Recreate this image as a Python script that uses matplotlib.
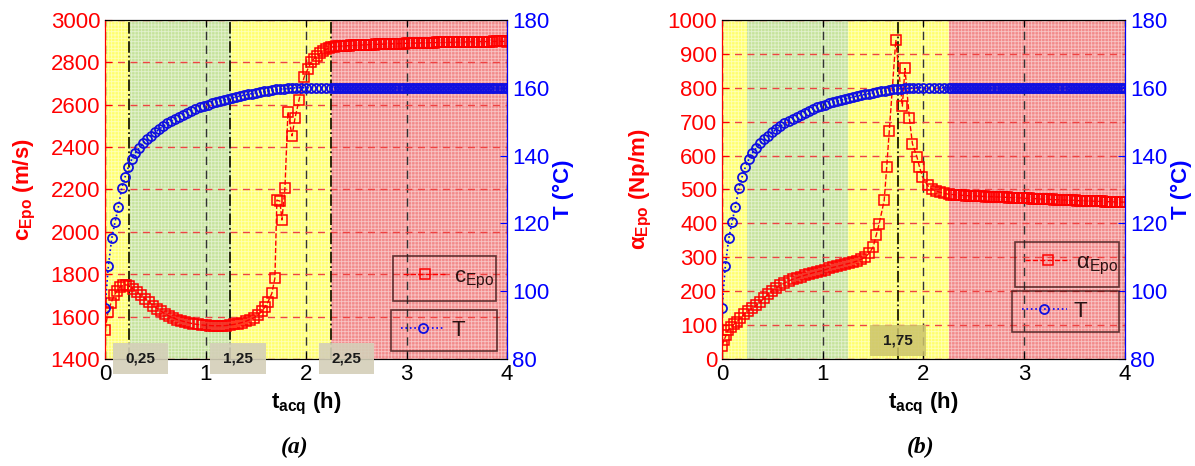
import numpy as np
import matplotlib
matplotlib.use("Agg")
import matplotlib.pyplot as plt
from matplotlib.patches import Rectangle

plt.rcParams['font.family'] = ['Liberation Sans', 'DejaVu Sans']
plt.rcParams['mathtext.fontset'] = 'custom'
plt.rcParams['mathtext.rm'] = 'Liberation Sans'
plt.rcParams['mathtext.it'] = 'Liberation Sans:italic'
plt.rcParams['mathtext.bf'] = 'Liberation Sans:bold'
plt.rcParams['hatch.linewidth'] = 0.6

# ---- sampling times of the last (isothermal) phase, shared by all series (h)
t_flat = [2.275, 2.300, 2.325, 2.350, 2.375, 2.400, 2.425, 2.450, 2.475, 2.500,
          2.525, 2.550, 2.575, 2.600, 2.625, 2.650, 2.675, 2.700, 2.725, 2.750,
          2.775, 2.800, 2.825, 2.850, 2.875, 2.900, 2.925, 2.950, 2.975, 3.000,
          3.025, 3.050, 3.075, 3.100, 3.125, 3.150, 3.175, 3.200, 3.225, 3.250,
          3.275, 3.300, 3.325, 3.350, 3.375, 3.400, 3.425, 3.450, 3.475, 3.500,
          3.525, 3.550, 3.575, 3.600, 3.625, 3.650, 3.675, 3.700, 3.725, 3.750,
          3.775, 3.800, 3.825, 3.850, 3.875, 3.900, 3.925, 3.950, 3.975, 4.000]

# ---- (a) sound speed c_Epo (m/s)
t_c_early = [0.00, 0.03, 0.06, 0.09, 0.12, 0.15, 0.18, 0.21, 0.24, 0.28, 0.32, 0.36, 0.40, 0.44,
             0.48, 0.52, 0.56, 0.60, 0.64, 0.68, 0.72, 0.76, 0.80, 0.84, 0.88, 0.92, 0.96, 1.00,
             1.04, 1.08, 1.12, 1.16, 1.20, 1.24, 1.28, 1.32, 1.36, 1.40, 1.44, 1.48, 1.52, 1.56,
             1.59, 1.62, 1.66, 1.69, 1.71, 1.74, 1.76, 1.79, 1.82, 1.86, 1.89, 1.93, 1.98, 2.02,
             2.05, 2.08, 2.11, 2.14, 2.17, 2.20, 2.23, 2.25]
c_early = [1537, 1623, 1665, 1700, 1722, 1740, 1748, 1750, 1745, 1730, 1715, 1700, 1685, 1668,
           1652, 1638, 1625, 1612, 1602, 1594, 1586, 1580, 1575, 1570, 1566, 1563, 1561, 1559,
           1558, 1557, 1557, 1557, 1558, 1560, 1563, 1567, 1572, 1578, 1586, 1595, 1607, 1625,
           1645, 1668, 1710, 1781, 2150, 2145, 2056, 2206, 2567, 2453, 2536, 2622, 2729, 2771,
           2800, 2818, 2832, 2843, 2853, 2861, 2868, 2872]
c_flat = [2874, 2875, 2876, 2877, 2878, 2878, 2879, 2880, 2880, 2881,
          2881, 2882, 2882, 2883, 2883, 2884, 2884, 2885, 2885, 2886,
          2886, 2887, 2887, 2887, 2888, 2888, 2889, 2889, 2889, 2890,
          2890, 2890, 2891, 2891, 2891, 2892, 2892, 2892, 2893, 2893,
          2893, 2894, 2894, 2894, 2894, 2895, 2895, 2895, 2895, 2896,
          2896, 2896, 2896, 2897, 2897, 2897, 2897, 2897, 2898, 2898,
          2898, 2898, 2898, 2898, 2899, 2899, 2899, 2899, 2899, 2898]

# ---- (b) attenuation alpha_Epo (Np/m)
t_a_early = [0.00, 0.02, 0.04, 0.06, 0.09, 0.12, 0.15, 0.18, 0.22, 0.26, 0.30, 0.34, 0.38, 0.42,
             0.46, 0.50, 0.54, 0.58, 0.62, 0.66, 0.70, 0.74, 0.78, 0.82, 0.86, 0.90, 0.94, 0.98,
             1.02, 1.06, 1.10, 1.14, 1.18, 1.22, 1.26, 1.30, 1.34, 1.38, 1.42, 1.46, 1.50, 1.53,
             1.56, 1.61, 1.635, 1.66, 1.725, 1.79, 1.816, 1.86, 1.89, 1.935, 1.96, 1.99, 2.04,
             2.08, 2.12, 2.16, 2.20, 2.25]
alpha_early = [39, 55, 70, 85, 95, 103, 110, 120, 133, 142, 150, 158, 168, 180,
               192, 202, 210, 218, 224, 230, 235, 239, 243, 247, 250, 254, 257, 260,
               263, 267, 270, 273, 276, 279, 282, 285, 289, 294, 300, 312, 330, 365,
               399, 468, 567, 672, 941, 746, 857, 710, 635, 596, 567, 537, 512,
               502, 496, 492, 489, 486]
alpha_flat = [485, 485, 484, 484, 483, 483, 482, 482, 481, 481,
              481, 480, 480, 480, 479, 479, 479, 478, 478, 478,
              477, 477, 477, 476, 476, 476, 475, 475, 475, 474,
              474, 474, 473, 473, 473, 472, 472, 472, 471, 471,
              471, 470, 470, 470, 469, 469, 469, 468, 468, 468,
              467, 467, 467, 466, 466, 466, 466, 465, 465, 465,
              465, 464, 464, 464, 464, 463, 463, 463, 463, 463]

# ---- cure temperature T (deg C), same in both panels
t_T_early = [0.00, 0.033, 0.067, 0.10, 0.133, 0.167, 0.20, 0.233, 0.267, 0.30, 0.34, 0.38, 0.42,
             0.46, 0.50, 0.54, 0.58, 0.62, 0.66, 0.70, 0.74, 0.78, 0.82, 0.86, 0.90, 0.94, 0.98,
             1.02, 1.06, 1.10, 1.14, 1.18, 1.22, 1.26, 1.30, 1.34, 1.38, 1.42, 1.46, 1.50, 1.54,
             1.58, 1.62, 1.66, 1.70, 1.74, 1.78, 1.82, 1.86, 1.90, 1.95, 2.00, 2.05, 2.10, 2.15,
             2.20, 2.25]
T_early = [95.0, 107.5, 115.6, 120.5, 124.9, 130.5, 133.8, 136.7, 139.0, 140.7, 142.2, 143.6, 144.8,
           145.9, 146.9, 147.8, 148.7, 149.5, 150.2, 150.9, 151.5, 152.1, 152.7, 153.2, 153.7, 154.2, 154.6,
           155.0, 155.4, 155.8, 156.1, 156.4, 156.7, 157.0, 157.3, 157.6, 157.8, 158.1, 158.3, 158.5, 158.8,
           159.0, 159.2, 159.4, 159.5, 159.6, 159.7, 159.8, 159.9, 160.0, 160.0, 160.0, 160.0, 160.0, 160.0,
           160.0, 160.0]
T_flat = [160.0, 160.0, 160.0, 160.0, 160.0, 160.0, 160.0, 160.0, 160.0, 160.0,
          160.0, 160.0, 160.0, 160.0, 160.0, 160.0, 160.0, 160.0, 160.0, 160.0,
          160.0, 160.0, 160.0, 160.0, 160.0, 160.0, 160.0, 160.0, 160.0, 160.0,
          160.0, 160.0, 160.0, 160.0, 160.0, 160.0, 160.0, 160.0, 160.0, 160.0,
          160.0, 160.0, 160.0, 160.0, 160.0, 160.0, 160.0, 160.0, 160.0, 160.0,
          160.0, 160.0, 160.0, 160.0, 160.0, 160.0, 160.0, 160.0, 160.0, 160.0,
          160.0, 160.0, 160.0, 160.0, 160.0, 160.0, 160.0, 160.0, 160.0, 160.0]

t_T = t_T_early + t_flat
temp = T_early + T_flat

# cure phases (h)
phases = [(0.0, 0.25, 'yellow'), (0.25, 1.25, 'green'), (1.25, 2.25, 'yellow'), (2.25, 4.0, 'red')]
phase_colors = {'yellow': '#ffff6e', 'green': '#c6e39c', 'red': '#f28a8a'}


def panel(ax, t, y, ylim, yticks, ylabel, leg_label, marks, boxes, box_color):
    for x0, x1, name in phases:
        ax.axvspan(x0, x1, facecolor=phase_colors[name], edgecolor=(1, 1, 1, 0.5),
                   hatch='+++++', linewidth=0, zorder=0)
    ax.set_xlim(0, 4)
    ax.set_ylim(*ylim)
    ax.set_xticks([0, 1, 2, 3, 4])
    ax.set_yticks(yticks)
    ax.yaxis.grid(True, color='#ee4444', linestyle=(0, (5, 4)), linewidth=1)
    ax.xaxis.grid(True, color='#333333', linestyle=(0, (6, 4)), linewidth=1)
    for m in marks:
        ax.axvline(m, color='#1a1a00', linestyle='-.', linewidth=1.3, zorder=1.6)
    l1, = ax.plot(t, y, linestyle='--', color='red', marker='s', markersize=6.5,
                  markerfacecolor='none', markeredgecolor='red', markeredgewidth=1.1, linewidth=1)
    ax.tick_params(axis='y', colors='red', direction='in', labelsize=16, length=5)
    ax.tick_params(axis='x', direction='in', labelsize=16, length=5, top=True)
    ax.spines['left'].set_color('red')
    ax.set_ylabel(ylabel, color='red', fontsize=16, fontweight='bold')
    ax.yaxis.set_label_coords(-0.168, 0.5)
    ax.set_xlabel(r't$_{\mathbf{acq}}$ (h)', fontsize=16, fontweight='bold')

    tw = ax.twinx()
    tw.set_ylim(80, 180)
    tw.set_yticks([80, 100, 120, 140, 160, 180])
    l2, = tw.plot(t_T, temp, linestyle=':', color='blue', marker='o', markersize=6.5,
                  markerfacecolor='none', markeredgecolor='#1010e0', markeredgewidth=1.3,
                  linewidth=1.2)
    tw.tick_params(axis='y', colors='blue', direction='in', labelsize=16, length=5)
    tw.spines['right'].set_color('blue')
    tw.spines['left'].set_color('red')
    tw.set_ylabel('T (°C)', color='blue', fontsize=16, fontweight='bold')
    tw.yaxis.set_label_coords(1.114, 0.5)

    lg_kw = dict(loc='center', mode='expand', borderaxespad=0, fontsize=16, handlelength=2.0,
                 handletextpad=0.3, borderpad=0.45, fancybox=False,
                 edgecolor='#3d1414', labelcolor='#2a1212')
    a, b = leg_label
    lg1 = tw.legend([l1], [a], bbox_to_anchor=b[0], **lg_kw)
    lg1.get_frame().set_linewidth(1.2)
    lg1.get_frame().set_facecolor('none')
    tw.add_artist(lg1)
    lg2 = tw.legend([l2], ['T'], bbox_to_anchor=b[1], **lg_kw)
    lg2.get_frame().set_linewidth(1.2)
    lg2.get_frame().set_facecolor('none')

    for (x0, y0, w, h), txt in boxes:
        tw.add_patch(Rectangle((x0, y0), w, h, transform=tw.transAxes, facecolor=box_color,
                               edgecolor='none', clip_on=False, zorder=5))
        tw.text(x0 + w / 2, y0 + h / 2, txt, transform=tw.transAxes, ha='center', va='center',
                fontsize=11, fontweight='bold', color='#1a1a1a', zorder=6)
    return tw


fig = plt.figure(figsize=(11.95, 4.66), dpi=100)
ax_a = fig.add_axes([0.0879, 0.2296, 0.3364, 0.7275])
ax_b = fig.add_axes([0.6042, 0.2296, 0.3372, 0.7275])

panel(ax_a, t_c_early + t_flat, c_early + c_flat, (1400, 3000), list(range(1400, 3001, 200)),
      r'c$_{\mathbf{Epo}}$ (m/s)',
      (r'c$_{\mathrm{Epo}}$', [(0.716, 0.174, 0.256, 0.127), (0.711, 0.021, 0.263, 0.129)]),
      [0.24, 1.24, 2.25],
      [((0.02, -0.044, 0.137, 0.091), '0,25'), ((0.261, -0.044, 0.139, 0.091), '1,25'),
       ((0.532, -0.044, 0.137, 0.091), '2,25')],
      (0.83, 0.81, 0.72, 0.9))

panel(ax_b, t_a_early + t_flat, alpha_early + alpha_flat, (0, 1000), list(range(0, 1001, 100)),
      r'α$_{\mathbf{Epo}}$ (Np/m)',
      (r'α$_{\mathrm{Epo}}$', [(0.728, 0.215, 0.256, 0.129), (0.72, 0.074, 0.264, 0.131)]),
      [1.75],
      [((0.367, 0.010, 0.138, 0.090), '1,75')],
      (0.80, 0.77, 0.42, 0.85))

fig.text(295 / 1195, 1 - 447 / 466, '(a)', ha='center', va='center', fontsize=17,
         family='Liberation Serif', style='italic', fontweight='bold')
fig.text(921 / 1195, 1 - 447 / 466, '(b)', ha='center', va='center', fontsize=17,
         family='Liberation Serif', style='italic', fontweight='bold')

fig.savefig('out.png', dpi=100)
